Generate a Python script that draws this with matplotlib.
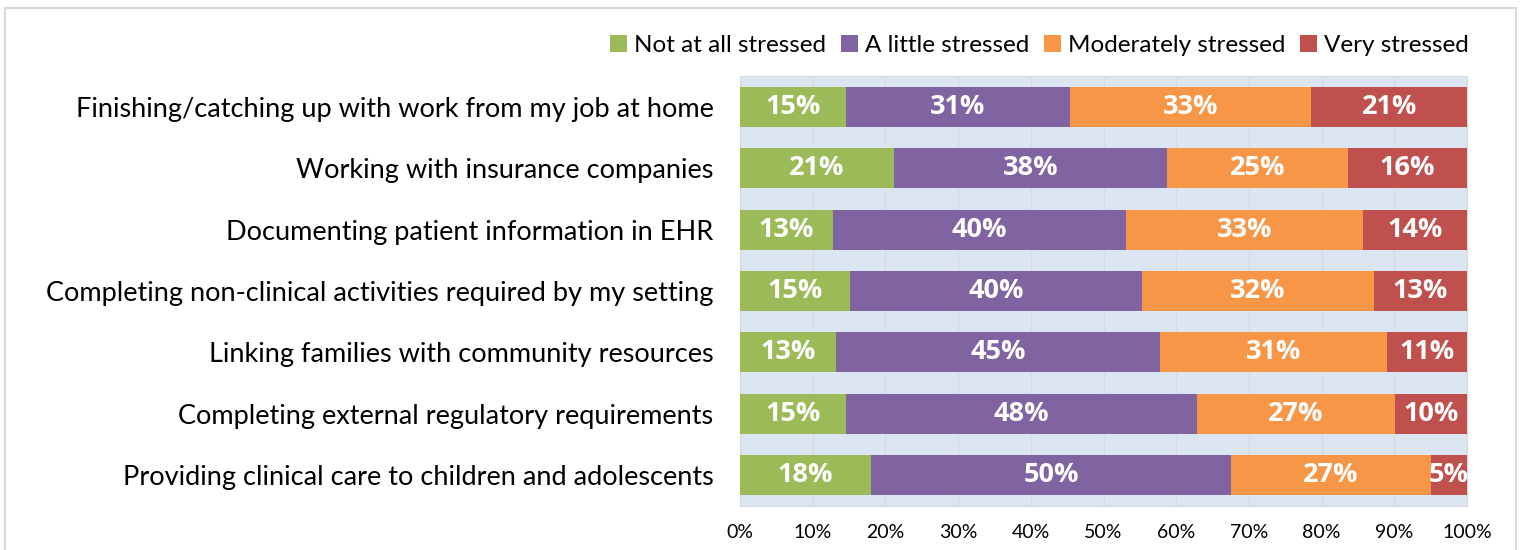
import numpy as np
import matplotlib.pyplot as plt
from matplotlib.patches import Rectangle

categories = [
    'Finishing/catching up with work from my job at home',
    'Working with insurance companies',
    'Documenting patient information in EHR',
    'Completing non-clinical activities required by my setting',
    'Linking families with community resources',
    'Completing external regulatory requirements',
    'Providing clinical care to children and adolescents',
]
series_names = ['Not at all stressed', 'A little stressed', 'Moderately stressed', 'Very stressed']
not_at_all = [14.6, 21.2, 12.8, 15.1, 13.2, 14.6, 18.0]
a_little = [30.8, 37.6, 40.3, 40.2, 44.6, 48.2, 49.6]
moderately = [33.2, 24.8, 32.6, 31.9, 31.2, 27.3, 27.4]
very = [21.4, 16.4, 14.3, 12.8, 11.0, 9.9, 5.0]
colors = ['#9BBB59', '#8064A2', '#F79646', '#C0504D']
xticks = [0, 10, 20, 30, 40, 50, 60, 70, 80, 90, 100]

plt.rcParams['font.family'] = ['Lato', 'DejaVu Sans']

fig = plt.figure(figsize=(15.23, 5.5), dpi=100)
# outer chart frame
fig.patches.append(Rectangle((5 / 1523, -0.05), 1511 / 1523, 1 - 8 / 550 + 0.05,
                             transform=fig.transFigure, fill=False,
                             edgecolor='#D9D9D9', linewidth=1.5))

ax = fig.add_axes([740 / 1523, 1 - 506 / 550, 727 / 1523, 430 / 550])
ax.set_facecolor('#DCE6F2')
y = np.arange(len(categories))
left = np.zeros(len(categories))
for name, vals, c in zip(series_names, [not_at_all, a_little, moderately, very], colors):
    vals = np.array(vals)
    ax.barh(y, vals, left=left, height=0.65, color=c, label=name, zorder=3)
    for yi, l, v in zip(y, left, vals):
        ax.text(l + v / 2, yi, f'{v:.0f}%', ha='center', va='center',
                color='white', fontsize=19.5, fontweight='bold',
                family=['Open Sans', 'DejaVu Sans'], zorder=4)
    left += vals

ax.set_xlim(0, 100)
ax.set_ylim(len(categories) - 0.5, -0.5)
ax.set_xticks(xticks)
ax.set_xticklabels([f'{t}%' for t in xticks], fontsize=14)
ax.set_yticks(y)
ax.set_yticklabels(categories, fontsize=19.5)
ax.tick_params(length=0)
ax.tick_params(axis='y', pad=19)
ax.tick_params(axis='x', pad=13)
ax.grid(axis='x', color='#D9D9D9', linewidth=1, zorder=1)
for s in ax.spines.values():
    s.set_color('#D9D9D9')

ax.legend(loc='center right', bbox_to_anchor=(1.003, 1.072), ncol=4, frameon=False,
          fontsize=17.5, handlelength=0.7, handleheight=0.7, handletextpad=0.3,
          columnspacing=0.6, borderaxespad=0, borderpad=0)

fig.savefig('out.png', dpi=100)
